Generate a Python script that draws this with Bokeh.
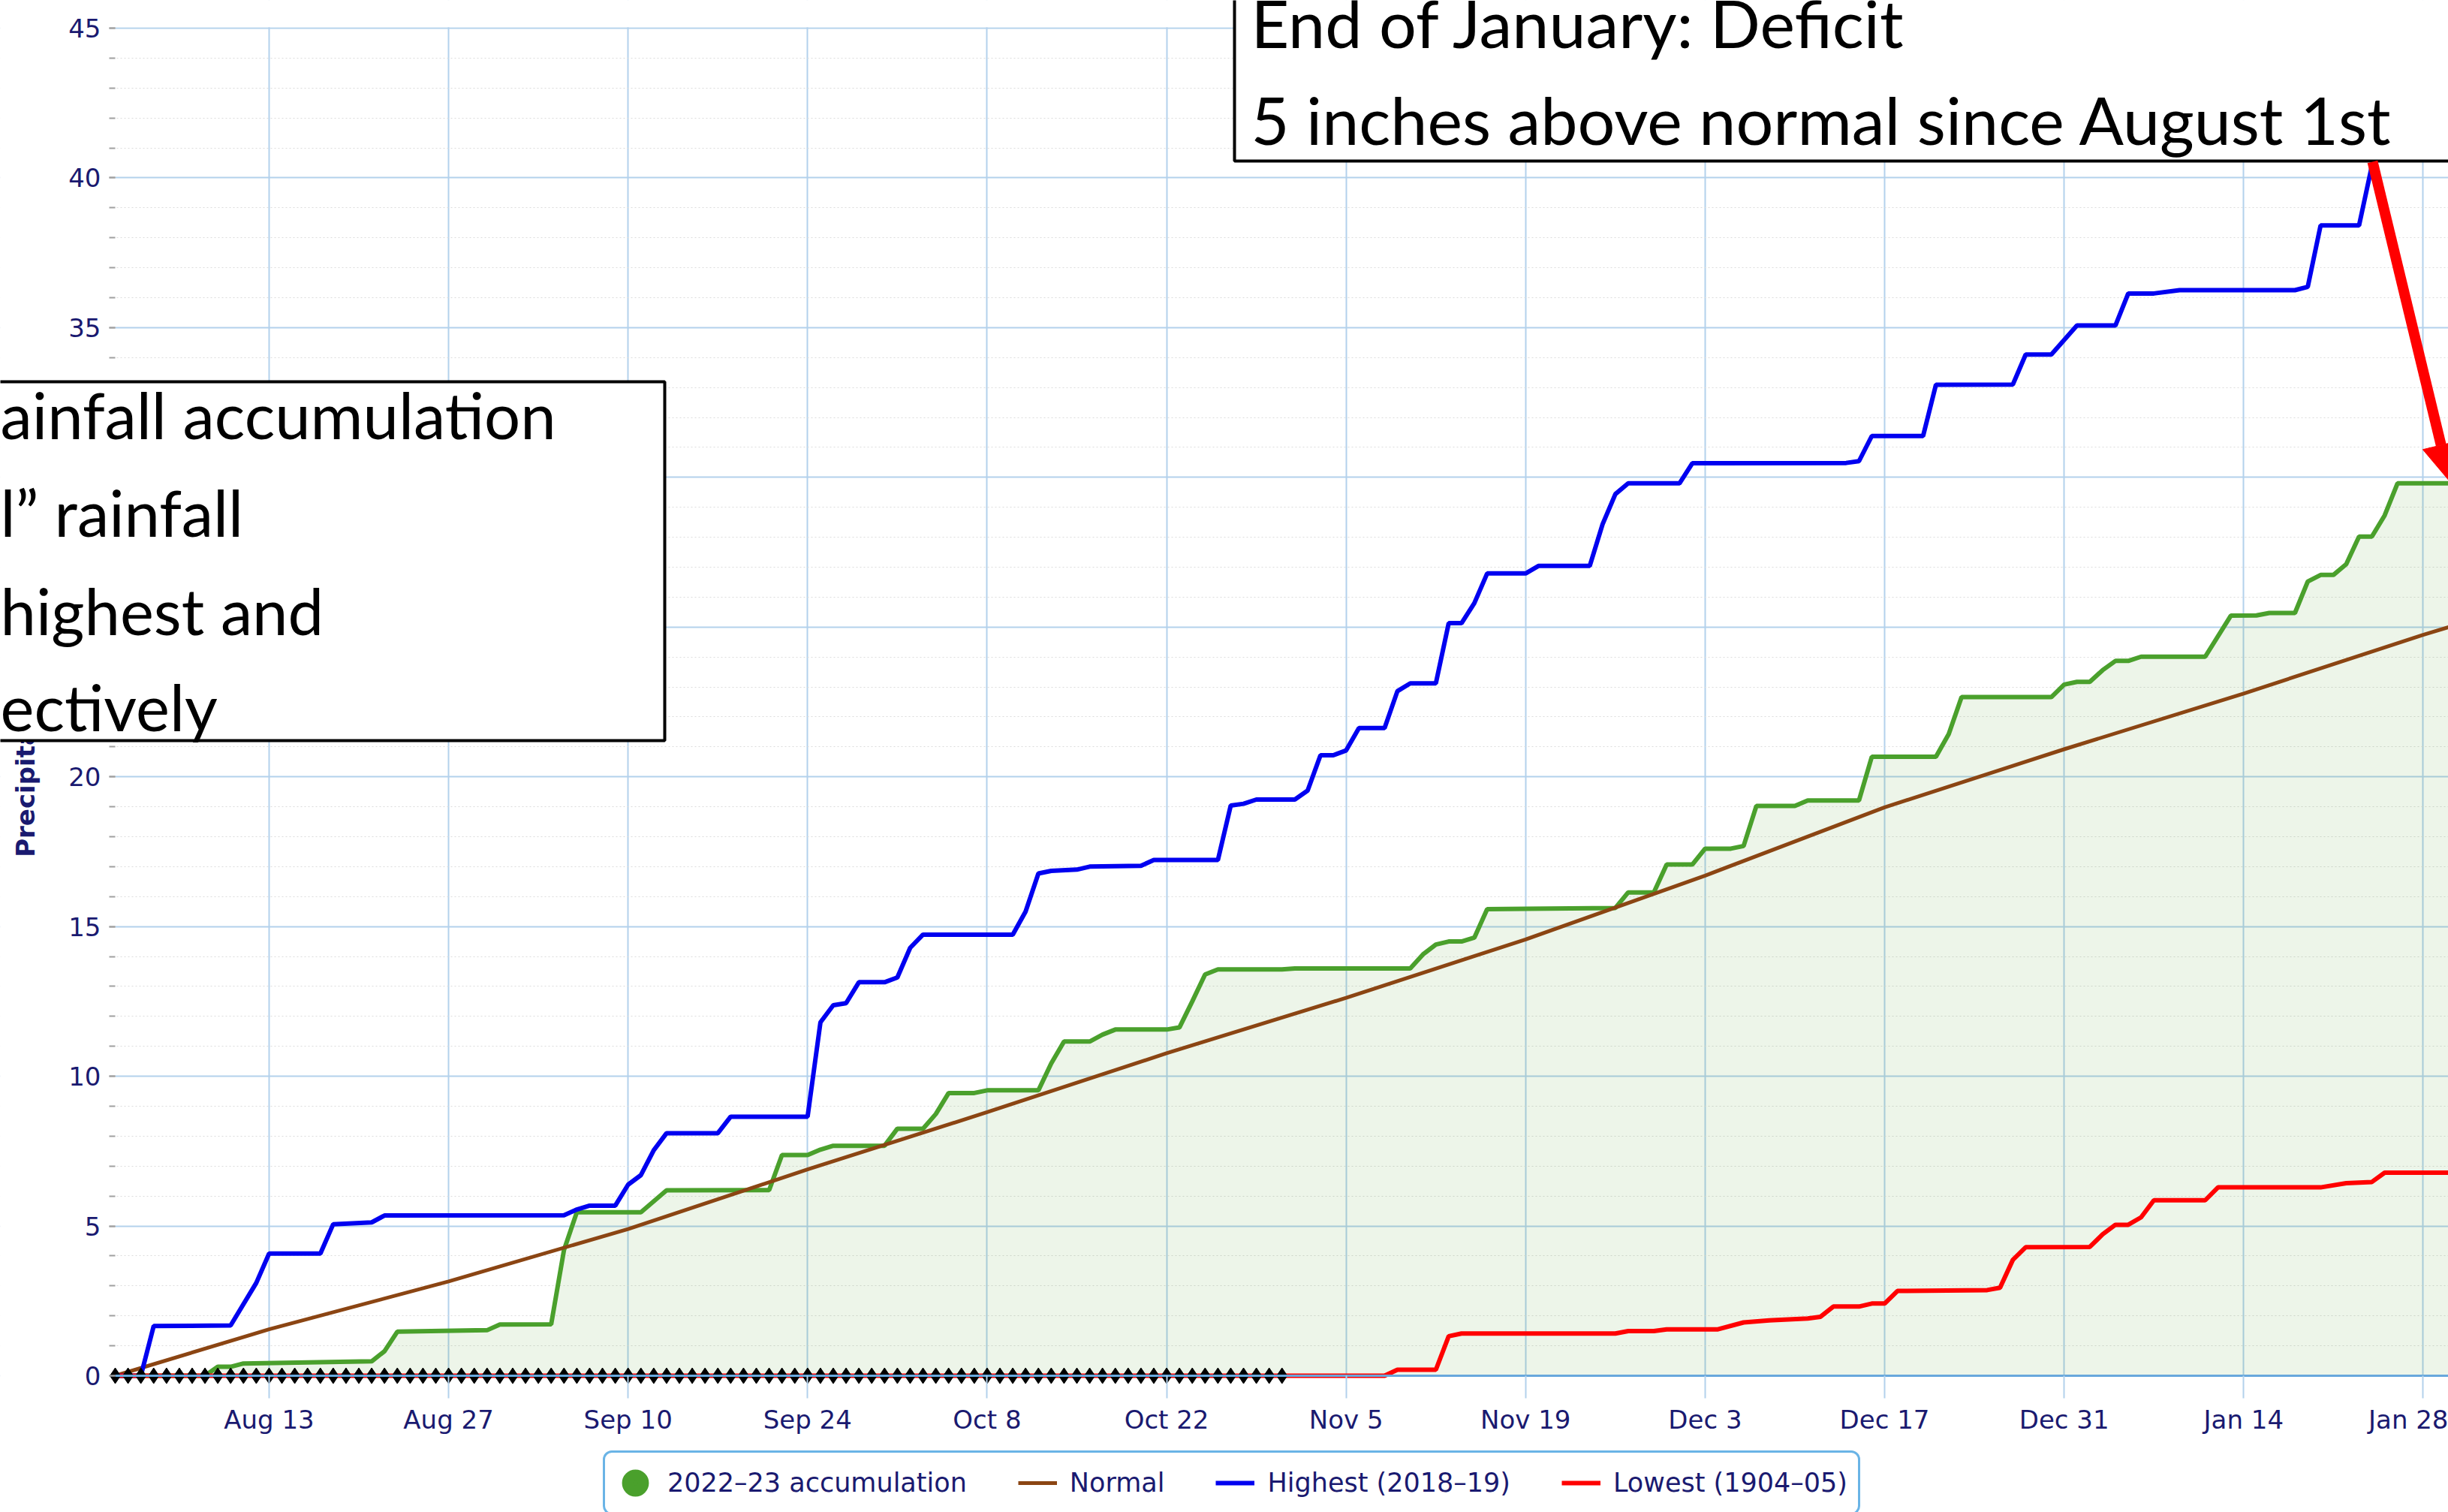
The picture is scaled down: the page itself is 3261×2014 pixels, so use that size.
from bokeh.plotting import figure
from bokeh.models import (Range1d, FixedTicker, BoxAnnotation, Label, Arrow,
                          NormalHead, Legend, LegendItem)
from bokeh.embed import file_html
from bokeh.resources import INLINE

# ---------------- data (x = days since Aug 1, y = inches) ----------------
tick_days = [12, 26, 40, 54, 68, 82, 96, 110, 124, 138, 152, 166, 180]
tick_labels = ["Aug 13", "Aug 27", "Sep 10", "Sep 24", "Oct 8", "Oct 22", "Nov 5",
               "Nov 19", "Dec 3", "Dec 17", "Dec 31", "Jan 14", "Jan 28"]
y_ticks = [0, 5, 10, 15, 20, 25, 30, 35, 40, 45]
y_minor = list(range(0, 46))

acc_days = [0, 7, 8, 9, 10, 20, 21, 22, 29, 30, 34, 35, 36, 41, 43, 51, 52, 54, 55, 56,
            60, 61, 63, 64, 65, 67, 68, 72, 73, 74, 76, 77, 78, 82, 83, 84, 85, 86, 91,
            92, 101, 102, 103, 104, 105, 106, 107, 117, 118, 120, 121, 123, 124, 126,
            127, 128, 131, 132, 136, 137, 142, 143, 144, 151, 152, 153, 154, 155, 156,
            157, 158, 163, 165, 167, 168, 170, 171, 172, 173, 174, 175, 176, 177, 178, 182]
acc_vals = [0, 0, 0.3, 0.3, 0.41, 0.48, 0.82, 1.47, 1.52, 1.71, 1.72, 4.2, 5.46, 5.46,
            6.19, 6.2, 7.37, 7.37, 7.55, 7.68, 7.68, 8.25, 8.25, 8.74, 9.44, 9.44, 9.53,
            9.53, 10.43, 11.16, 11.16, 11.39, 11.56, 11.56, 11.63, 12.5, 13.4, 13.57,
            13.57, 13.6, 13.6, 14.07, 14.4, 14.5, 14.5, 14.63, 15.58, 15.62, 16.14, 16.14,
            17.07, 17.07, 17.6, 17.6, 17.69, 19.03, 19.03, 19.21, 19.21, 20.67, 20.67,
            21.43, 22.66, 22.66, 23.08, 23.17, 23.17, 23.56, 23.87, 23.87, 24.01, 24.01,
            25.38, 25.39, 25.47, 25.47, 26.52, 26.74, 26.74, 27.1, 28.02, 28.02, 28.73,
            29.8, 29.8]

normal_days = [0, 12, 26, 40, 54, 68, 82, 96, 110, 124, 138, 152, 166, 180, 182]
normal_vals = [0, 1.55, 3.15, 4.9, 6.89, 8.8, 10.77, 12.62, 14.57, 16.7, 18.98, 20.92,
               22.78, 24.74, 25.0]

high_days = [0, 2, 3, 9, 11, 12, 16, 17, 20, 21, 35, 36, 37, 39, 40, 41, 42, 43, 47, 48,
             54, 55, 56, 57, 58, 60, 61, 62, 63, 70, 71, 72, 73, 75, 76, 80, 81, 86, 87,
             88, 89, 92, 93, 94, 95, 96, 97, 99, 100, 101, 103, 104, 105, 106, 107, 110,
             111, 115, 116, 117, 118, 122, 123, 135, 136, 137, 141, 142, 148, 149, 151,
             153, 156, 157, 159, 161, 170, 171, 172, 175, 176, 177, 182]
high_vals = [0, 0, 1.66, 1.68, 3.1, 4.08, 4.08, 5.06, 5.12, 5.35, 5.36, 5.55, 5.68, 5.68,
             6.38, 6.7, 7.53, 8.1, 8.1, 8.65, 8.65, 11.8, 12.37, 12.44, 13.14, 13.14, 13.3,
             14.29, 14.73, 14.73, 15.5, 16.77, 16.86, 16.9, 17.0, 17.03, 17.22, 17.22,
             19.04, 19.1, 19.24, 19.24, 19.54, 20.72, 20.72, 20.88, 21.63, 21.63, 22.86,
             23.12, 23.12, 25.13, 25.13, 25.8, 26.79, 26.79, 27.04, 27.04, 28.43, 29.44,
             29.8, 29.8, 30.47, 30.48, 30.54, 31.38, 31.38, 33.09, 33.1, 34.1, 34.1, 35.07,
             35.07, 36.14, 36.14, 36.25, 36.25, 36.36, 38.41, 38.41, 40.4, 41.6, 41.6]

low_days = [0, 99, 100, 103, 104, 105, 117, 118, 120, 121, 125, 127, 129, 132, 133, 134,
            136, 137, 138, 139, 146, 147, 148, 149, 154, 155, 156, 157, 158, 159, 163, 164,
            172, 174, 176, 177, 182]
low_vals = [0, 0, 0.2, 0.2, 1.32, 1.41, 1.41, 1.49, 1.49, 1.55, 1.55, 1.78, 1.85, 1.91,
            1.97, 2.31, 2.31, 2.41, 2.41, 2.83, 2.86, 2.94, 3.87, 4.29, 4.3, 4.72, 5.04,
            5.04, 5.29, 5.86, 5.86, 6.29, 6.29, 6.43, 6.47, 6.78, 6.78]

zero_days = list(range(0, 92))
zero_vals = [0] * len(zero_days)

# ---------------- layout / styles ----------------
W, H = 3261, 2014
PX_X0, PX_PER_DAY = 153, 17.08      # canvas x of Aug 1, pixels per day
PX_Y0, PX_PER_IN = 1832, 39.89      # canvas y of 0 in, pixels per inch


def dx(px):
    return (px - PX_X0) / PX_PER_DAY


def dy(py):
    return (PX_Y0 - py) / PX_PER_IN


X_END = dx(W)
Y_TOP = 45

GREEN = "#4aa02c"
BROWN = "#8b4513"
BLUE = "#0000f0"
RED = "#ff0000"
NAVY = "#1a1a70"
GRID = "#b3d1ec"
TXT_SHIFT = 36   # canvas px between requested anchor and drawn baseline

p = figure(width=W, height=H, output_backend="svg", toolbar_location=None,
           x_range=Range1d(dx(0), X_END), y_range=Range1d(dy(H), dy(0)),
           min_border=0, min_border_left=0, min_border_right=0,
           min_border_top=0, min_border_bottom=0)
p.outline_line_color = None
p.background_fill_color = "white"
p.border_fill_color = "white"

xa = p.xaxis[0]
xa.fixed_location = 0
xa.bounds = (0, X_END)
xa.ticker = FixedTicker(ticks=tick_days, minor_ticks=[])
xa.major_label_overrides = {d: l for d, l in zip(tick_days, tick_labels)}
xa.axis_line_color = "#68a8dc"
xa.axis_line_width = 3
xa.major_tick_line_color = GRID
xa.major_tick_line_width = 2
xa.major_tick_out = 30
xa.major_tick_in = 0
xa.minor_tick_line_color = None
xa.major_label_text_font = "DejaVu Sans"
xa.major_label_text_font_size = "34px"
xa.major_label_text_color = NAVY
xa.major_label_standoff = 8

ya = p.yaxis[0]
ya.fixed_location = 0
ya.bounds = (0, Y_TOP)
ya.ticker = FixedTicker(ticks=y_ticks, minor_ticks=y_minor)
ya.axis_line_color = None
ya.major_tick_line_color = "#a0a0a0"
ya.major_tick_line_width = 2
ya.major_tick_out = 8
ya.major_tick_in = 0
ya.minor_tick_line_color = "#a0a0a0"
ya.minor_tick_line_width = 2
ya.minor_tick_out = 8
ya.minor_tick_in = 0
ya.major_label_text_font = "DejaVu Sans"
ya.major_label_text_font_size = "34px"
ya.major_label_text_color = NAVY
ya.major_label_standoff = 11
ya.axis_label = "Precipitation (inches)"
ya.axis_label_text_font = "DejaVu Sans"
ya.axis_label_text_font_style = "bold"
ya.axis_label_text_font_size = "34px"
ya.axis_label_text_color = NAVY
ya.axis_label_standoff = 34

p.xgrid.grid_line_color = GRID
p.xgrid.grid_line_width = 2
p.ygrid.grid_line_color = GRID
p.ygrid.grid_line_width = 2
p.ygrid.minor_grid_line_color = "#dcdcdc"
p.ygrid.minor_grid_line_width = 1
p.ygrid.minor_grid_line_dash = "2 3"

# white masks (under the axes) so that grid lines stay inside the plot area
for kw in [dict(left=dx(-100), right=0, bottom=dy(H + 100), top=dy(-100)),
           dict(left=0, right=dx(W + 100), bottom=dy(H + 100), top=0),
           dict(left=0, right=dx(W + 100), bottom=Y_TOP + 0.03, top=dy(-100))]:
    p.add_layout(BoxAnnotation(level="underlay", fill_color="white", fill_alpha=1,
                               line_color=None, **kw))

# ---------------- glyphs ----------------
p.varea(x=acc_days, y1=0, y2=acc_vals, fill_color=GREEN, fill_alpha=0.1)
r_acc = p.line(acc_days, acc_vals, line_color=GREEN, line_width=6)
r_norm = p.line(normal_days, normal_vals, line_color=BROWN, line_width=5)
r_high = p.line(high_days, high_vals, line_color=BLUE, line_width=6)
r_low = p.line(low_days, low_vals, line_color=RED, line_width=6)
p.scatter(zero_days, zero_vals, marker="diamond", size=21, color="black")
# legend-only marker for the accumulation series (no visible point)
r_acc_leg = p.scatter(x=[float("nan")], y=[float("nan")], marker="circle", size=20,
                      fill_color=GREEN, line_color=GREEN, line_width=15)

# ---------------- annotations ----------------
p.add_layout(BoxAnnotation(left=dx(1644), right=dx(W + 100), bottom=dy(214),
                           top=dy(-100), fill_color="white", fill_alpha=1,
                           line_color="black", line_alpha=1, line_width=4))
for txt, base in [("End of January: Deficit", 65),
                  ("5 inches above normal since August 1st", 194)]:
    p.add_layout(Label(x=dx(1666), y=dy(base - TXT_SHIFT), text=txt, text_font="Lato",
                       text_font_size="88px", text_color="black",
                       text_align="left", text_baseline="alphabetic"))

p.add_layout(BoxAnnotation(left=dx(-100), right=dx(885), bottom=dy(986), top=dy(508),
                           fill_color="white", fill_alpha=1, line_color="black",
                           line_alpha=1, line_width=4))
for txt, base in [("ainfall accumulation", 587), ("l\u201d rainfall", 717),
                  ("highest and", 848), ("ectively", 976)]:
    p.add_layout(Label(x=dx(0), y=dy(base - TXT_SHIFT), text=txt, text_font="Lato",
                       text_font_size="85px", text_color="black",
                       text_align="left", text_baseline="alphabetic"))

p.add_layout(Arrow(x_start=dx(3160), y_start=dy(215), x_end=dx(3263), y_end=dy(641),
                   line_color=RED, line_width=14,
                   end=NormalHead(size=50, fill_color=RED, line_color=RED)))

legend = Legend(items=[
    LegendItem(label="2022\u201323 accumulation", renderers=[r_acc_leg]),
    LegendItem(label="Normal", renderers=[r_norm]),
    LegendItem(label="Highest (2018\u201319)", renderers=[r_high]),
    LegendItem(label="Lowest (1904\u201305)", renderers=[r_low]),
], orientation="horizontal", location=(803, -4))
legend.border_line_color = "#6ab4e6"
legend.border_line_width = 3
legend.border_line_alpha = 1
legend.background_fill_color = "white"
legend.background_fill_alpha = 1
legend.padding = 14
legend.spacing = 68
legend.margin = 0
legend.label_standoff = 17
legend.glyph_width = 52
legend.glyph_height = 52
legend.label_text_font = "DejaVu Sans"
legend.label_text_font_size = "35px"
legend.label_text_color = NAVY
if "border_radius" in Legend.properties():
    legend.border_radius = 12
p.add_layout(legend, "center")

open("out.html", "w").write(file_html(p, INLINE))
